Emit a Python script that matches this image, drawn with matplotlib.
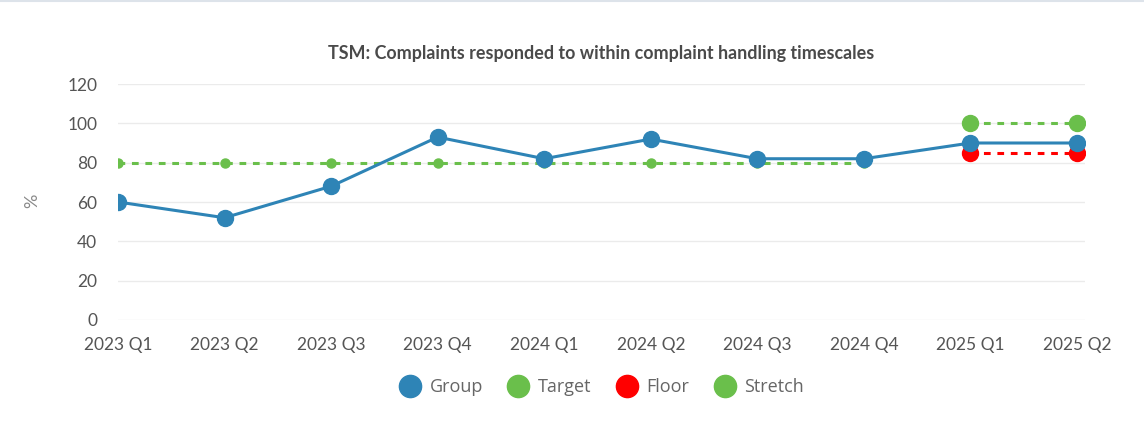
import matplotlib.pyplot as plt
from matplotlib.lines import Line2D

quarters = ['2023 Q1', '2023 Q2', '2023 Q3', '2023 Q4', '2024 Q1',
            '2024 Q2', '2024 Q3', '2024 Q4', '2025 Q1', '2025 Q2']
group = [60, 52, 68, 93, 82, 92, 82, 82, 90, 90]
target = [80, 80, 80, 80, 80, 80, 80, 80, None, None]
floor = [None, None, None, None, None, None, None, None, 85, 85]
stretch = [None, None, None, None, None, None, None, None, 100, 100]

blue = '#2e84b6'
green = '#6abf4b'
red = '#ff0000'

fig = plt.figure(figsize=(11.44, 4.46), dpi=100)
ax = fig.add_axes([118 / 1144, 126 / 446, (1085 - 118) / 1144, 236 / 446])

x = list(range(len(quarters)))

def pts(vals):
    xs = [i for i, v in zip(x, vals) if v is not None]
    ys = [v for v in vals if v is not None]
    return xs, ys

tx, ty = pts(target)
ax.plot(tx, ty, color=green, lw=2.2, ls=(0, (2.2, 2.2)), marker='o', ms=6.5, zorder=2)
fx, fy = pts(floor)
ax.plot(fx, fy, color=red, lw=2.2, ls=(0, (2.2, 2.2)), marker='o', ms=11.5, zorder=3)
sx, sy = pts(stretch)
ax.plot(sx, sy, color=green, lw=2.2, ls=(0, (2.2, 2.2)), marker='o', ms=11.5, zorder=3)
ax.plot(x, group, color=blue, lw=2.2, marker='o', ms=11.5, zorder=4)

ax.set_xlim(0, 9.075)
ax.set_ylim(0, 120)
ax.set_yticks(range(0, 121, 20))
ax.set_xticks(x)
ax.set_xticklabels(quarters)
ax.grid(axis='y', color='#ebebeb', lw=1)
ax.set_axisbelow(True)
for s in ax.spines.values():
    s.set_visible(False)
ax.tick_params(length=0, labelsize=12.5, labelcolor='#555555', pad=12)
ax.tick_params(axis='y', pad=15)
for lab in ax.get_xticklabels() + ax.get_yticklabels():
    lab.set_family('Lato')

fig.text(32 / 1144, 1 - 201 / 446, '%', rotation=90, ha='center', va='center',
         color='#888888', fontsize=13, family='Lato')
fig.text(601 / 1144, 1 - 53 / 446, 'TSM: Complaints responded to within complaint handling timescales',
         ha='center', va='center', color='#4a4a4a', fontsize=12.9, weight='bold', family='Lato')

handles = [Line2D([], [], ls='none', marker='o', ms=16, color=c) for c in [blue, green, red, green]]
fig.legend(handles, ['Group', 'Target', 'Floor', 'Stretch'], loc='center',
           bbox_to_anchor=(598 / 1144, 1 - 387 / 446), ncol=4, frameon=False,
           handletextpad=0.1, columnspacing=0.95, prop={'family': 'Open Sans', 'size': 13},
           labelcolor='#666666')

fig.add_artist(Line2D([0, 1], [0.998, 0.998], color='#dde3ea', lw=1.5, transform=fig.transFigure))

fig.savefig('out.png', dpi=100)
